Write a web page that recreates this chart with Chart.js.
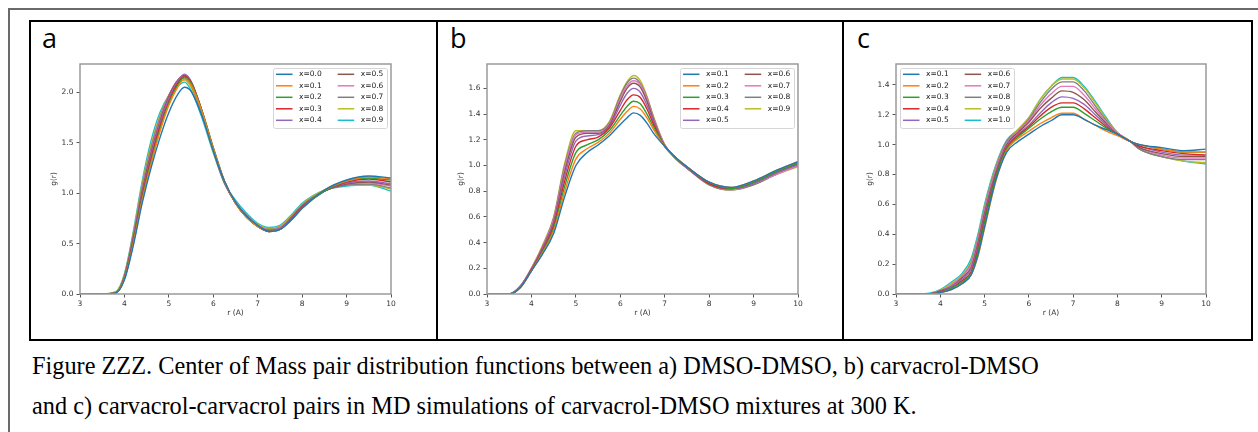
<!DOCTYPE html>
<html>
<head>
<meta charset="utf-8">
<script src="https://cdn.jsdelivr.net/npm/chart.js@4"></script>
<style>
    body { margin: 0; background: #fff; }
    #page { position: relative; width: 1258px; height: 432px; overflow: hidden; }
    .outer { position: absolute; left: 8px; top: 8px; width: 1400px; height: 600px; border-top: 2px solid #6a6a6a; border-left: 2px solid #6a6a6a; }
    .tbl { position: absolute; left: 29px; top: 20px; width: 1224px; height: 321px; border: 2px solid #000; box-sizing: border-box; }
    .vline { position: absolute; top: 20px; width: 2px; height: 321px; background: #000; }
    .lab { position: absolute; top: 24px; font-family: "Open Sans", sans-serif; font-size: 27px; line-height: 27px; color: #000; }
    canvas { position: absolute; }
    .cap { position: absolute; left: 32px; top: 346px; font-family: "Liberation Serif", serif; font-size: 24.3px; line-height: 40px; color: #000; white-space: nowrap; }
</style>
</head>
<body>
<div id="page">
    <div class="outer"></div>
    <div class="tbl"></div>
    <div class="vline" style="left:436px"></div>
    <div class="vline" style="left:842px"></div>
    <div class="lab" style="left:42px">a</div>
    <div class="lab" style="left:450px">b</div>
    <div class="lab" style="left:857px">c</div>
    <canvas id="chartA" width="371" height="280" style="left:30px;top:54px"></canvas>
    <canvas id="chartB" width="371" height="280" style="left:437px;top:54px"></canvas>
    <canvas id="chartC" width="370" height="280" style="left:846px;top:54px"></canvas>
    <div class="cap">Figure ZZZ. Center of Mass pair distribution functions between a) DMSO-DMSO, b) carvacrol-DMSO<br>and c) carvacrol-carvacrol pairs in MD simulations of carvacrol-DMSO mixtures at 300 K.</div>
</div>
<script>
// цвета matplotlib (tab10)
const colors = ['#1f77b4', '#ff7f0e', '#2ca02c', '#d62728', '#9467bd', '#8c564b', '#e377c2', '#7f7f7f', '#bcbd22', '#17becf'];

// a) DMSO-DMSO
const rA = [3.0, 3.5, 3.8, 4.0, 4.2, 4.4, 4.6, 4.8, 5.0, 5.2, 5.35, 5.5, 5.75, 6.0, 6.25, 6.5, 6.75, 7.0, 7.25, 7.5, 7.75, 8.0, 8.5, 9.0, 9.5, 10.0];
const labelsA = ['x=0.0', 'x=0.1', 'x=0.2', 'x=0.3', 'x=0.4', 'x=0.5', 'x=0.6', 'x=0.7', 'x=0.8', 'x=0.9'];
const gA = [
    [0, 0, 0.01, 0.14, 0.48, 0.90, 1.25, 1.55, 1.80, 1.98, 2.05, 2.01, 1.76, 1.42, 1.12, 0.91, 0.77, 0.68, 0.62, 0.64, 0.73, 0.85, 1.03, 1.13, 1.17, 1.15],
    [0, 0, 0.01, 0.15, 0.50, 0.93, 1.29, 1.61, 1.87, 2.05, 2.13, 2.07, 1.80, 1.44, 1.12, 0.90, 0.76, 0.67, 0.62, 0.64, 0.73, 0.85, 1.03, 1.12, 1.16, 1.14],
    [0, 0, 0.01, 0.15, 0.51, 0.95, 1.31, 1.63, 1.89, 2.07, 2.15, 2.09, 1.81, 1.45, 1.12, 0.90, 0.76, 0.67, 0.62, 0.64, 0.73, 0.85, 1.02, 1.12, 1.15, 1.13],
    [0, 0, 0.01, 0.16, 0.53, 0.97, 1.34, 1.66, 1.91, 2.09, 2.16, 2.10, 1.81, 1.45, 1.12, 0.90, 0.76, 0.67, 0.62, 0.64, 0.74, 0.86, 1.02, 1.11, 1.14, 1.11],
    [0, 0, 0.01, 0.16, 0.54, 0.99, 1.37, 1.69, 1.94, 2.11, 2.18, 2.11, 1.81, 1.44, 1.11, 0.90, 0.76, 0.67, 0.62, 0.65, 0.74, 0.86, 1.02, 1.10, 1.12, 1.09],
    [0, 0, 0.01, 0.17, 0.56, 1.02, 1.40, 1.71, 1.96, 2.12, 2.17, 2.10, 1.80, 1.43, 1.11, 0.90, 0.77, 0.67, 0.63, 0.65, 0.75, 0.87, 1.02, 1.09, 1.11, 1.08],
    [0, 0, 0.01, 0.17, 0.57, 1.04, 1.42, 1.73, 1.97, 2.12, 2.16, 2.09, 1.79, 1.43, 1.11, 0.91, 0.77, 0.68, 0.63, 0.66, 0.75, 0.87, 1.02, 1.09, 1.10, 1.07],
    [0, 0, 0.01, 0.18, 0.58, 1.06, 1.45, 1.75, 1.97, 2.11, 2.14, 2.07, 1.78, 1.42, 1.10, 0.91, 0.78, 0.68, 0.64, 0.66, 0.76, 0.88, 1.02, 1.08, 1.09, 1.05],
    [0, 0, 0.02, 0.19, 0.60, 1.09, 1.48, 1.77, 1.97, 2.09, 2.12, 2.05, 1.77, 1.41, 1.10, 0.91, 0.78, 0.69, 0.65, 0.67, 0.77, 0.89, 1.03, 1.08, 1.08, 1.04],
    [0, 0, 0.02, 0.20, 0.62, 1.12, 1.52, 1.80, 1.97, 2.06, 2.10, 2.02, 1.74, 1.40, 1.10, 0.93, 0.80, 0.70, 0.66, 0.68, 0.78, 0.90, 1.03, 1.07, 1.08, 1.02]
];

// b) carvacrol-DMSO
const rB = [3.0, 3.5, 3.75, 4.0, 4.25, 4.5, 4.75, 5.0, 5.25, 5.5, 5.75, 6.0, 6.15, 6.3, 6.45, 6.6, 6.75, 7.0, 7.25, 7.5, 8.0, 8.5, 9.0, 9.5, 10.0];
const labelsB = ['x=0.1', 'x=0.2', 'x=0.3', 'x=0.4', 'x=0.5', 'x=0.6', 'x=0.7', 'x=0.8', 'x=0.9'];
const gB = [
    [0, 0, 0.05, 0.18, 0.31, 0.47, 0.76, 1.00, 1.10, 1.16, 1.23, 1.32, 1.37, 1.41, 1.39, 1.33, 1.25, 1.15, 1.06, 0.99, 0.87, 0.83, 0.88, 0.96, 1.03],
    [0, 0, 0.05, 0.18, 0.32, 0.49, 0.80, 1.05, 1.13, 1.18, 1.25, 1.36, 1.42, 1.46, 1.44, 1.37, 1.28, 1.15, 1.06, 0.99, 0.87, 0.83, 0.88, 0.96, 1.03],
    [0, 0, 0.05, 0.18, 0.33, 0.51, 0.84, 1.10, 1.16, 1.20, 1.27, 1.39, 1.46, 1.50, 1.48, 1.40, 1.30, 1.15, 1.06, 0.99, 0.87, 0.82, 0.87, 0.95, 1.02],
    [0, 0, 0.05, 0.19, 0.34, 0.53, 0.88, 1.15, 1.20, 1.22, 1.29, 1.43, 1.51, 1.55, 1.53, 1.44, 1.32, 1.15, 1.06, 0.99, 0.86, 0.82, 0.87, 0.95, 1.02],
    [0, 0, 0.06, 0.19, 0.35, 0.55, 0.92, 1.19, 1.23, 1.24, 1.30, 1.47, 1.56, 1.60, 1.57, 1.47, 1.34, 1.15, 1.06, 0.98, 0.86, 0.82, 0.86, 0.94, 1.01],
    [0, 0, 0.06, 0.19, 0.36, 0.56, 0.95, 1.22, 1.25, 1.25, 1.31, 1.50, 1.60, 1.64, 1.61, 1.50, 1.35, 1.15, 1.06, 0.98, 0.86, 0.82, 0.86, 0.94, 1.01],
    [0, 0, 0.06, 0.20, 0.37, 0.58, 0.98, 1.24, 1.26, 1.26, 1.32, 1.52, 1.62, 1.66, 1.63, 1.52, 1.36, 1.16, 1.06, 0.98, 0.86, 0.81, 0.86, 0.93, 1.00],
    [0, 0, 0.06, 0.20, 0.37, 0.59, 1.00, 1.25, 1.27, 1.27, 1.33, 1.54, 1.64, 1.68, 1.64, 1.53, 1.37, 1.16, 1.05, 0.98, 0.85, 0.81, 0.85, 0.93, 1.00],
    [0, 0, 0.06, 0.20, 0.38, 0.60, 1.02, 1.27, 1.27, 1.27, 1.34, 1.55, 1.65, 1.70, 1.66, 1.54, 1.38, 1.16, 1.05, 0.98, 0.85, 0.81, 0.85, 0.93, 0.99]
];

// c) carvacrol-carvacrol
const rC = [3.0, 3.5, 3.75, 4.0, 4.25, 4.5, 4.7, 4.85, 5.0, 5.25, 5.5, 5.75, 6.0, 6.25, 6.5, 6.75, 7.0, 7.25, 7.5, 7.75, 8.0, 8.3, 8.5, 9.0, 9.5, 10.0];
const labelsC = ['x=0.1', 'x=0.2', 'x=0.3', 'x=0.4', 'x=0.5', 'x=0.6', 'x=0.7', 'x=0.8', 'x=0.9', 'x=1.0'];
const gC = [
    [0, 0, 0, 0.01, 0.03, 0.07, 0.13, 0.26, 0.45, 0.76, 0.95, 1.02, 1.07, 1.12, 1.16, 1.20, 1.20, 1.17, 1.13, 1.10, 1.07, 1.02, 1.00, 0.98, 0.96, 0.97],
    [0, 0, 0, 0.01, 0.03, 0.07, 0.13, 0.25, 0.44, 0.75, 0.96, 1.04, 1.09, 1.14, 1.18, 1.21, 1.21, 1.17, 1.13, 1.09, 1.06, 1.02, 1.00, 0.97, 0.95, 0.95],
    [0, 0, 0, 0.01, 0.04, 0.08, 0.14, 0.28, 0.48, 0.78, 0.97, 1.05, 1.11, 1.17, 1.22, 1.25, 1.25, 1.21, 1.16, 1.11, 1.07, 1.02, 1.00, 0.97, 0.95, 0.95],
    [0, 0, 0, 0.015, 0.04, 0.09, 0.15, 0.30, 0.50, 0.79, 0.98, 1.06, 1.12, 1.19, 1.25, 1.28, 1.28, 1.24, 1.18, 1.12, 1.07, 1.02, 0.99, 0.96, 0.94, 0.93],
    [0, 0, 0, 0.015, 0.05, 0.10, 0.17, 0.32, 0.52, 0.80, 0.99, 1.07, 1.13, 1.21, 1.28, 1.32, 1.31, 1.27, 1.20, 1.13, 1.07, 1.02, 0.99, 0.95, 0.93, 0.93],
    [0, 0, 0, 0.02, 0.05, 0.11, 0.18, 0.34, 0.54, 0.81, 1.00, 1.08, 1.15, 1.24, 1.31, 1.36, 1.35, 1.30, 1.22, 1.14, 1.07, 1.02, 0.98, 0.94, 0.92, 0.92],
    [0, 0, 0, 0.02, 0.06, 0.12, 0.20, 0.36, 0.56, 0.83, 1.01, 1.09, 1.16, 1.26, 1.34, 1.39, 1.39, 1.33, 1.24, 1.15, 1.08, 1.02, 0.98, 0.93, 0.91, 0.91],
    [0, 0, 0, 0.02, 0.06, 0.12, 0.21, 0.37, 0.57, 0.84, 1.02, 1.09, 1.17, 1.28, 1.37, 1.42, 1.42, 1.36, 1.26, 1.16, 1.08, 1.02, 0.97, 0.92, 0.90, 0.90],
    [0, 0, 0, 0.025, 0.07, 0.13, 0.22, 0.38, 0.58, 0.85, 1.02, 1.10, 1.18, 1.30, 1.39, 1.44, 1.44, 1.38, 1.28, 1.17, 1.08, 1.02, 0.97, 0.92, 0.89, 0.88],
    [0, 0, 0.005, 0.03, 0.08, 0.14, 0.24, 0.40, 0.60, 0.86, 1.03, 1.10, 1.18, 1.30, 1.39, 1.45, 1.45, 1.39, 1.29, 1.18, 1.08, 1.02, 0.97, 0.92, 0.89, 0.87]
];

const FONT = 'DejaVu Sans';

// рамка вокруг области графика, как у matplotlib
const framePlugin = {
    id: 'frame',
    afterDatasetsDraw(chart) {
        const { ctx, chartArea: a } = chart;
        ctx.save();
        ctx.strokeStyle = '#9a9a9a';
        ctx.lineWidth = 1.5;
        ctx.strokeRect(a.left, a.top, a.right - a.left, a.bottom - a.top);
        ctx.restore();
    }
};

// легенда в две колонки внутри графика
const mplLegend = {
    id: 'mplLegend',
    afterDraw(chart, args, opts) {
        const { ctx, chartArea } = chart;
        const sets = chart.data.datasets;
        const rows = Math.ceil(sets.length / 2);
        const w = 114, h = 60;
        const x0 = opts.side === 'left' ? chartArea.left + 4 : chartArea.right - 4 - w;
        const y0 = chartArea.top + 4;
        ctx.save();
        ctx.fillStyle = 'rgba(255,255,255,0.85)';
        ctx.strokeStyle = '#d6d6d6';
        ctx.lineWidth = 1;
        ctx.beginPath();
        if (ctx.roundRect) ctx.roundRect(x0 + 0.5, y0 + 0.5, w, h, 2);
        else ctx.rect(x0 + 0.5, y0 + 0.5, w, h);
        ctx.fill();
        ctx.stroke();
        ctx.font = '7.5px "' + FONT + '"';
        ctx.textBaseline = 'middle';
        sets.forEach((ds, i) => {
            const col = Math.floor(i / rows), row = i % rows;
            const lx = x0 + 3 + col * 61.7;
            const ly = y0 + 6.3 + row * 11.5;
            ctx.strokeStyle = ds.borderColor;
            ctx.lineWidth = 1.5;
            ctx.beginPath();
            ctx.moveTo(lx, ly);
            ctx.lineTo(lx + 16.5, ly);
            ctx.stroke();
            ctx.fillStyle = '#222';
            ctx.fillText(ds.label, lx + 23, ly);
        });
        ctx.restore();
    }
};

function makeChart(id, r, labels, series, yMax, yStep, side) {
    return new Chart(document.getElementById(id).getContext('2d'), {
        type: 'line',
        data: {
            labels: r,
            datasets: series.map((g, i) => ({
                label: labels[i],
                data: g,
                borderColor: colors[i],
                borderWidth: 1.4,
                pointRadius: 0,
                fill: false,
                cubicInterpolationMode: 'monotone'
            }))
        },
        options: {
            responsive: false,
            animation: false,
            devicePixelRatio: 1,
            layout: { padding: { left: 0, right: 10, top: 10, bottom: 0 } },
            plugins: {
                legend: { display: false },
                tooltip: { enabled: false },
                mplLegend: { side: side }
            },
            scales: {
                x: {
                    type: 'linear',
                    min: 3,
                    max: 10,
                    afterFit: s => { s.height = 40; },
                    ticks: { stepSize: 1, color: '#333', padding: 2, font: { family: FONT, size: 7.5 } },
                    grid: { drawOnChartArea: false, drawTicks: true, tickLength: 3.5, color: '#555' },
                    border: { display: false },
                    title: { display: true, text: 'r (A)', color: '#333', padding: { top: 0, bottom: 16 }, font: { family: FONT, size: 7.5 } }
                },
                y: {
                    min: 0,
                    max: yMax,
                    afterFit: s => { s.width = 50; },
                    ticks: {
                        stepSize: yStep,
                        includeBounds: false,
                        color: '#333',
                        padding: 3,
                        font: { family: FONT, size: 7.5 },
                        callback: v => v.toFixed(1)
                    },
                    grid: { drawOnChartArea: false, drawTicks: true, tickLength: 3.5, color: '#555' },
                    border: { display: false },
                    title: { display: true, text: 'g(r)', color: '#333', padding: { top: 20, bottom: 0 }, font: { family: FONT, size: 7.5 } }
                }
            }
        },
        plugins: [framePlugin, mplLegend]
    });
}

document.addEventListener('DOMContentLoaded', () => {
    makeChart('chartA', rA, labelsA, gA, 2.28, 0.5, 'right');
    makeChart('chartB', rB, labelsB, gB, 1.79, 0.2, 'right');
    makeChart('chartC', rC, labelsC, gC, 1.54, 0.2, 'left');
});
</script>
</body>
</html>
